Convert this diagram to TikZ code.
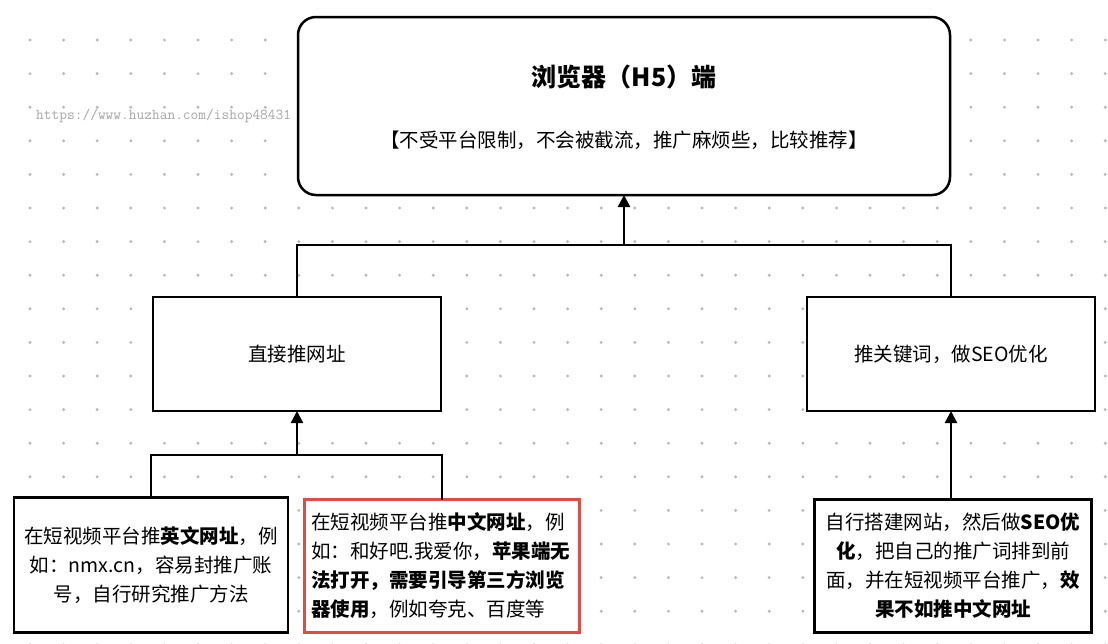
\documentclass[tikz,border=0pt]{standalone}
\usepackage{fontspec}
\setmainfont{Noto Sans CJK SC}
\usetikzlibrary{arrows.meta}
\begin{document}
\begin{tikzpicture}[x=1pt,y=-1pt,
  box/.style={draw=black,line width=2.5pt,fill=white,inner sep=0pt,outer sep=0pt},
  txt/.style={font=\fontsize{19.5}{29}\selectfont,align=center},
  conn/.style={line width=2.5pt},
  arr/.style={conn,-{Triangle[length=12pt,width=12pt]}}]
\useasboundingbox (0,0) rectangle (1108,643);
\fill[white] (0,0) rectangle (1108,643);
\foreach \i in {0,...,32}{\foreach \j in {0,...,18}{
  \fill[black!28] (30+33.6*\i,40+33.6*\j) circle (1.6pt);}}
\node[text=black!35,font=\fontsize{15}{15}\selectfont\ttfamily,anchor=west,inner sep=0pt] (wm) at (36,116) {https://www.huzhan.com/ishop48431};
% top
\node[box,rounded corners=18pt,minimum width=652pt,minimum height=178pt] (top) at (624,106) {};
\node[font=\fontsize{25}{25}\selectfont\bfseries] (title) at (624,77) {浏览器（H5）端};
\node[txt] (sub) at (624,140) {【不受平台限制，不会被截流，推广麻烦些，比较推荐】};
% mid
\node[box,minimum width=288pt,minimum height=114pt,txt] (L) at (297,354) {直接推网址};
\node[box,minimum width=288pt,minimum height=114pt,txt] (R) at (951,354) {推关键词，做SEO优化};
\coordinate (j1) at (624,245);
\draw[conn] (L.north) -- (297,245) -- (951,245) -- (R.north);
\draw[arr] (j1) -- (top.south);
% bottom
\node[box,minimum width=274pt,minimum height=135pt] (B1) at (151,565) {};
\node[txt] at (B1) {在短视频平台推\textbf{英文网址}，例\\如：nmx.cn，容易封推广账\\号，自行研究推广方法};
\node[box,draw={rgb,255:red,230;green,75;blue,65},minimum width=275pt,minimum height=133pt] (B2) at (442,566) {};
\node[txt,align=left,anchor=west,inner sep=0pt] at (311,566) {在短视频平台推\textbf{中文网址}，例\\如：和好吧.我爱你，\textbf{苹果端无}\\\textbf{法打开，需要引导第三方浏览}\\\textbf{器使用}，例如夸克、百度等};
\node[box,minimum width=277pt,minimum height=133pt] (B3) at (953,566) {};
\node[txt] at (B3) {自行搭建网站，然后做\textbf{SEO优}\\\textbf{化}，把自己的推广词排到前\\面，并在短视频平台推广，\textbf{效}\\\textbf{果不如推中文网址}};
\coordinate (j2) at (297,455);
\draw[conn] (151,497.5) -- (151,455) -- (442,455) -- (442,499.5);
\draw[arr] (j2) -- (L.south);
\draw[arr] (B3.north -| R.south) -- (R.south);
\end{tikzpicture}
\end{document}
